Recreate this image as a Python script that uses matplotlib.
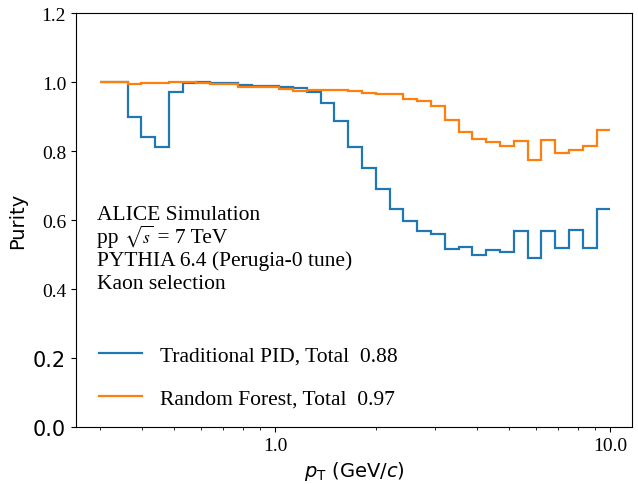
import numpy as np
import matplotlib
matplotlib.use("Agg")
import matplotlib.pyplot as plt
from matplotlib.ticker import FixedLocator, FixedFormatter, NullFormatter, LogLocator
from matplotlib.transforms import offset_copy

plt.rcParams['mathtext.fontset'] = 'stix'

# pT bin edges (GeV/c), log-spaced from 0.3 to 10
pt_edges = [0.300, 0.330, 0.363, 0.399, 0.438, 0.482, 0.530, 0.582, 0.640, 0.704,
            0.774, 0.851, 0.935, 1.028, 1.131, 1.243, 1.367, 1.503, 1.652, 1.816,
            1.997, 2.195, 2.413, 2.653, 2.917, 3.207, 3.526, 3.876, 4.262, 4.686,
            5.151, 5.663, 6.226, 6.845, 7.526, 8.274, 9.097, 10.000]

purity_traditional = [1.000, 1.000, 0.900, 0.842, 0.812, 0.970, 0.998, 1.000, 0.996, 0.996,
                      0.992, 0.989, 0.988, 0.985, 0.983, 0.970, 0.940, 0.886, 0.812, 0.751,
                      0.689, 0.632, 0.598, 0.569, 0.559, 0.515, 0.523, 0.500, 0.513, 0.508,
                      0.568, 0.491, 0.568, 0.520, 0.571, 0.518, 0.631]

purity_rf = [1.000, 0.999, 0.995, 0.997, 0.997, 1.000, 1.000, 0.998, 0.993, 0.993,
             0.986, 0.986, 0.985, 0.979, 0.974, 0.976, 0.978, 0.976, 0.974, 0.968,
             0.965, 0.964, 0.951, 0.945, 0.932, 0.889, 0.855, 0.834, 0.825, 0.814,
             0.829, 0.773, 0.833, 0.794, 0.802, 0.816, 0.862]

label_traditional = "Traditional PID, Total  0.88"
label_rf = "Random Forest, Total  0.97"

info_lines = ["ALICE Simulation",
              None,
              "PYTHIA 6.4 (Perugia-0 tune)",
              "Kaon selection"]
energy_parts = ["pp ", "$\\sqrt{s}$", " = 7 TeV"]

fig = plt.figure(figsize=(6.38, 4.85), dpi=100)
ax = fig.add_axes([0.119, 0.1175, 0.8716, 0.8535])

ax.stairs(purity_traditional, pt_edges, baseline=None, color='#1f77b4',
          linewidth=1.6, label=label_traditional)
ax.stairs(purity_rf, pt_edges, baseline=None, color='#ff7f0e',
          linewidth=1.6, label=label_rf)

ax.set_xscale('log')
ax.set_xlim(0.2547, 11.6)
ax.set_ylim(0.0, 1.2)

ax.xaxis.set_major_locator(FixedLocator([1.0, 10.0]))
ax.xaxis.set_major_formatter(FixedFormatter(["1.0", "10.0"]))
ax.xaxis.set_minor_locator(LogLocator(base=10, subs=np.arange(2, 10)))
ax.xaxis.set_minor_formatter(NullFormatter())

yt = [0.0, 0.2, 0.4, 0.6, 0.8, 1.0, 1.2]
ax.set_yticks(yt)
ax.set_yticklabels([f"{v:.1f}" for v in yt])
for lab, v in zip(ax.get_yticklabels(), yt):
    if v < 0.3:
        lab.set_fontfamily('DejaVu Sans')
        lab.set_fontsize(15)
    else:
        lab.set_fontfamily('Liberation Serif')
        lab.set_fontsize(14)
for lab in ax.get_xticklabels():
    lab.set_fontfamily('Liberation Serif')
    lab.set_fontsize(14)

ax.set_ylabel("Purity", fontsize=14, family='DejaVu Sans')
ax.set_xlabel(r"$p_{\mathrm{T}}$ (GeV/$c$)", fontsize=14, family='DejaVu Sans')
ax.xaxis.label.set_math_fontfamily('dejavusans')

x0 = 0.038
fs = 15.5
fig.canvas.draw()
renderer = fig.canvas.get_renderer()
for i, line in enumerate(info_lines):
    y = 0.5024 - 0.0556 * i
    if line is not None:
        ax.text(x0, y, line, transform=ax.transAxes,
                ha='left', va='baseline', fontsize=fs, family='Liberation Serif')
    else:
        dx = 0.0
        sizes = [fs, 12.5, fs]
        for part, sz in zip(energy_parts, sizes):
            t = ax.text(x0, y, part,
                        transform=offset_copy(ax.transAxes, fig=fig, x=dx * 72 / fig.dpi, y=0, units='points'),
                        ha='left', va='baseline', fontsize=sz, family='Liberation Serif')
            bb = t.get_window_extent(renderer=renderer)
            dx += bb.width - (1 if part.startswith('$') else 0)

leg = ax.legend(loc='lower left', bbox_to_anchor=(0.0, -0.0097), frameon=False,
                prop={'family': 'Liberation Serif', 'size': fs},
                handlelength=2.0, labelspacing=1.04, handletextpad=0.84,
                borderaxespad=0.65)

fig.savefig("out.png", dpi=100)
